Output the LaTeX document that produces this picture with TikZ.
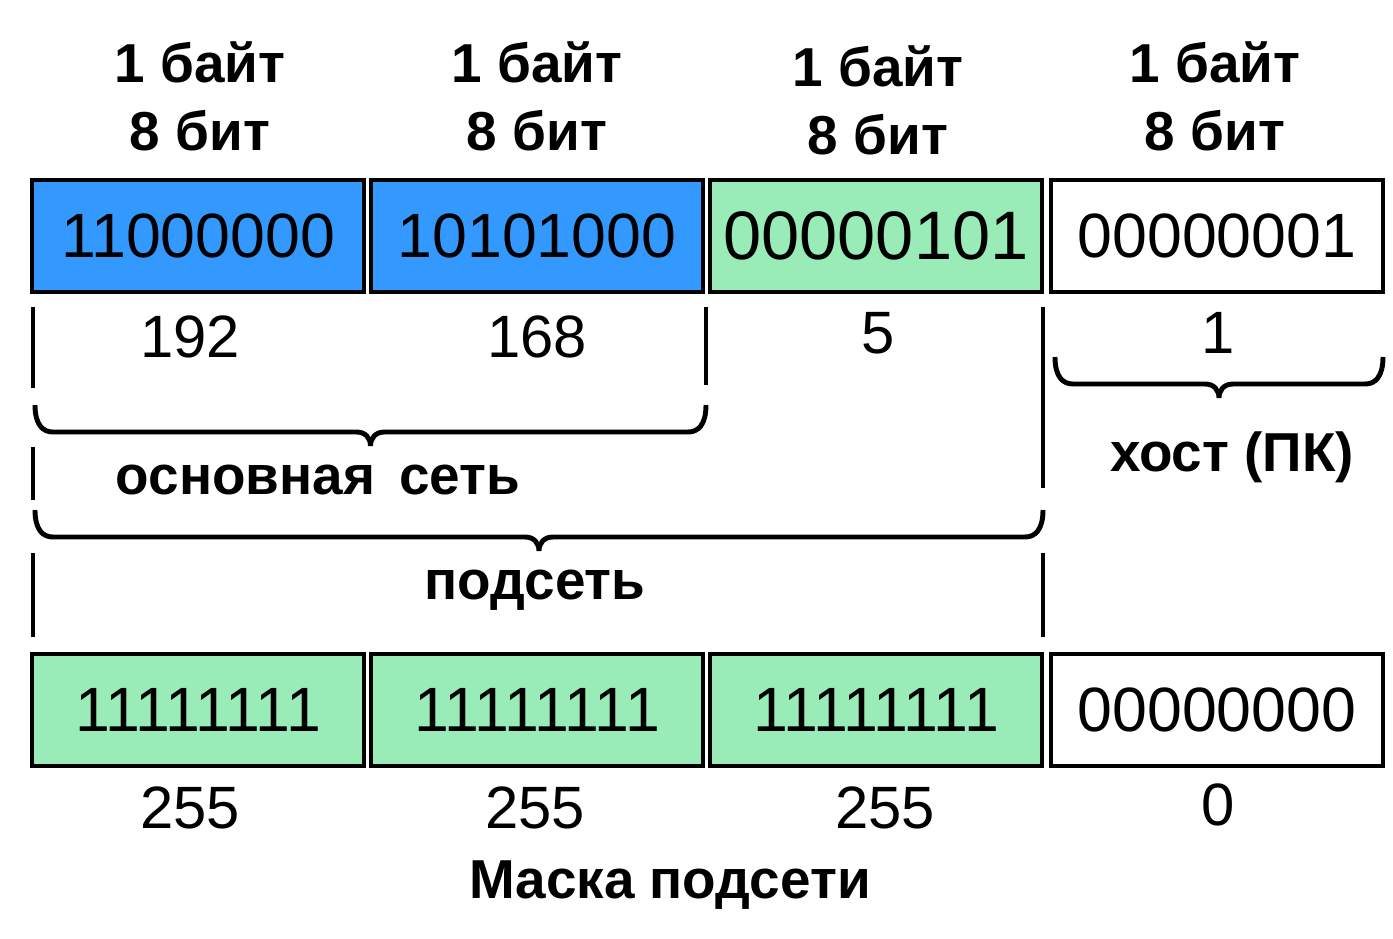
\documentclass[tikz,border=0pt]{standalone}
\usepackage{fontspec}
\setmainfont{Liberation Sans}
\usetikzlibrary{calc}
\definecolor{netblue}{RGB}{51,153,255}
\definecolor{subgreen}{RGB}{153,235,183}
\tikzset{
  byte/.style={draw=black, line width=1.1pt, minimum width=3.32cm, minimum height=1.12cm, inner sep=0pt, font=\fontsize{17.8}{20}\selectfont},
  head/.style={align=center, font=\fontsize{15.6}{19.3}\selectfont\bfseries},
  num/.style={font=\fontsize{17}{20}\selectfont},
  lbl/.style={font=\fontsize{15.6}{19}\selectfont\bfseries},
  sep/.style={line width=1.3pt},
  brk/.style={line width=1.4pt, to path={
    .. controls +(0,20) and +(-10,0) .. ($(\tikztostart)+(18,27)$)
    -- ($(\tikztostart)!0.5!(\tikztotarget)+(-14,27)$)
    .. controls +(9,0) and +(0,-8) .. ($(\tikztostart)!0.5!(\tikztotarget)+(0,41)$)
    .. controls +(0,-8) and +(-9,0) .. ($(\tikztostart)!0.5!(\tikztotarget)+(14,27)$)
    -- ($(\tikztotarget)+(-18,27)$)
    .. controls +(10,0) and +(0,20) .. (\tikztotarget)}}
}
\begin{document}
\begin{tikzpicture}[x=0.01cm,y=-0.01cm]
            \useasboundingbox (0,0) rectangle (1393,938);
            % headers
            \node[head] (h1) at (200,96) {1 байт\\8 бит};
            \node[head] (h2) at (537,96) {1 байт\\8 бит};
            \node[head] (h3) at (878,100) {1 байт\\8 бит};
            \node[head] (h4) at (1215,96) {1 байт\\8 бит};
            % address
            \node[byte, fill=netblue] (a1) at (198,236) {11000000};
            \node[byte, fill=netblue] (a2) at (537,236) {10101000};
            \node[byte, fill=subgreen, font=\fontsize{19.5}{22}\selectfont] (a3) at (876,236) {00000101};
            \node[byte, fill=white] (a4) at (1217,236) {00000001};
            \node[num] (d1) at (190,337) {192};
            \node[num] (d2) at (537,337) {168};
            \node[num] (d3) at (878,333) {5};
            \node[num] (d4) at (1218,333) {1};
            % lines
            \coordinate (p1) at (33,307);  \coordinate (p2) at (33,388);
            \coordinate (p3) at (33,447);  \coordinate (p4) at (33,500);
            \coordinate (p5) at (33,553);  \coordinate (p6) at (33,637);
            \coordinate (q1) at (706,307); \coordinate (q2) at (706,385);
            \coordinate (r1) at (1043,307); \coordinate (r2) at (1043,488);
            \coordinate (r3) at (1043,553); \coordinate (r4) at (1043,637);
            \draw[sep] (p1) -- (p2);
            \draw[sep] (p3) -- (p4);
            \draw[sep] (p5) -- (p6);
            \draw[sep] (q1) -- (q2);
            \draw[sep] (r1) -- (r2);
            \draw[sep] (r3) -- (r4);
            % braces
            \coordinate (n1) at (35,405);   \coordinate (n2) at (706,405);
            \coordinate (s1) at (35,510);   \coordinate (s2) at (1043,510);
            \coordinate (k1) at (1055,357); \coordinate (k2) at (1383,357);
            \draw[brk] (n1) to (n2);
            \draw[brk] (s1) to (s2);
            \draw[brk] (k1) to (k2);
            \node[lbl] (net) at (318,480) {основная\, сеть};
            \node[lbl] (sub) at (535,590) {подсеть};
            \node[lbl] (host) at (1232,457) {хост (ПК)};
            % mask
            \node[byte, fill=subgreen] (m1) at (198,710) {11111111};
            \node[byte, fill=subgreen] (m2) at (537,710) {11111111};
            \node[byte, fill=subgreen] (m3) at (876,710) {11111111};
            \node[byte, fill=white] (m4) at (1217,710) {00000000};
            \node[num] (e1) at (190,808) {255};
            \node[num] (e2) at (535,808) {255};
            \node[num] (e3) at (885,808) {255};
            \node[num] (e4) at (1218,805) {0};
            \node[lbl] (mask) at (670,885) {Маска подсети};
        \end{tikzpicture}
\end{document}
